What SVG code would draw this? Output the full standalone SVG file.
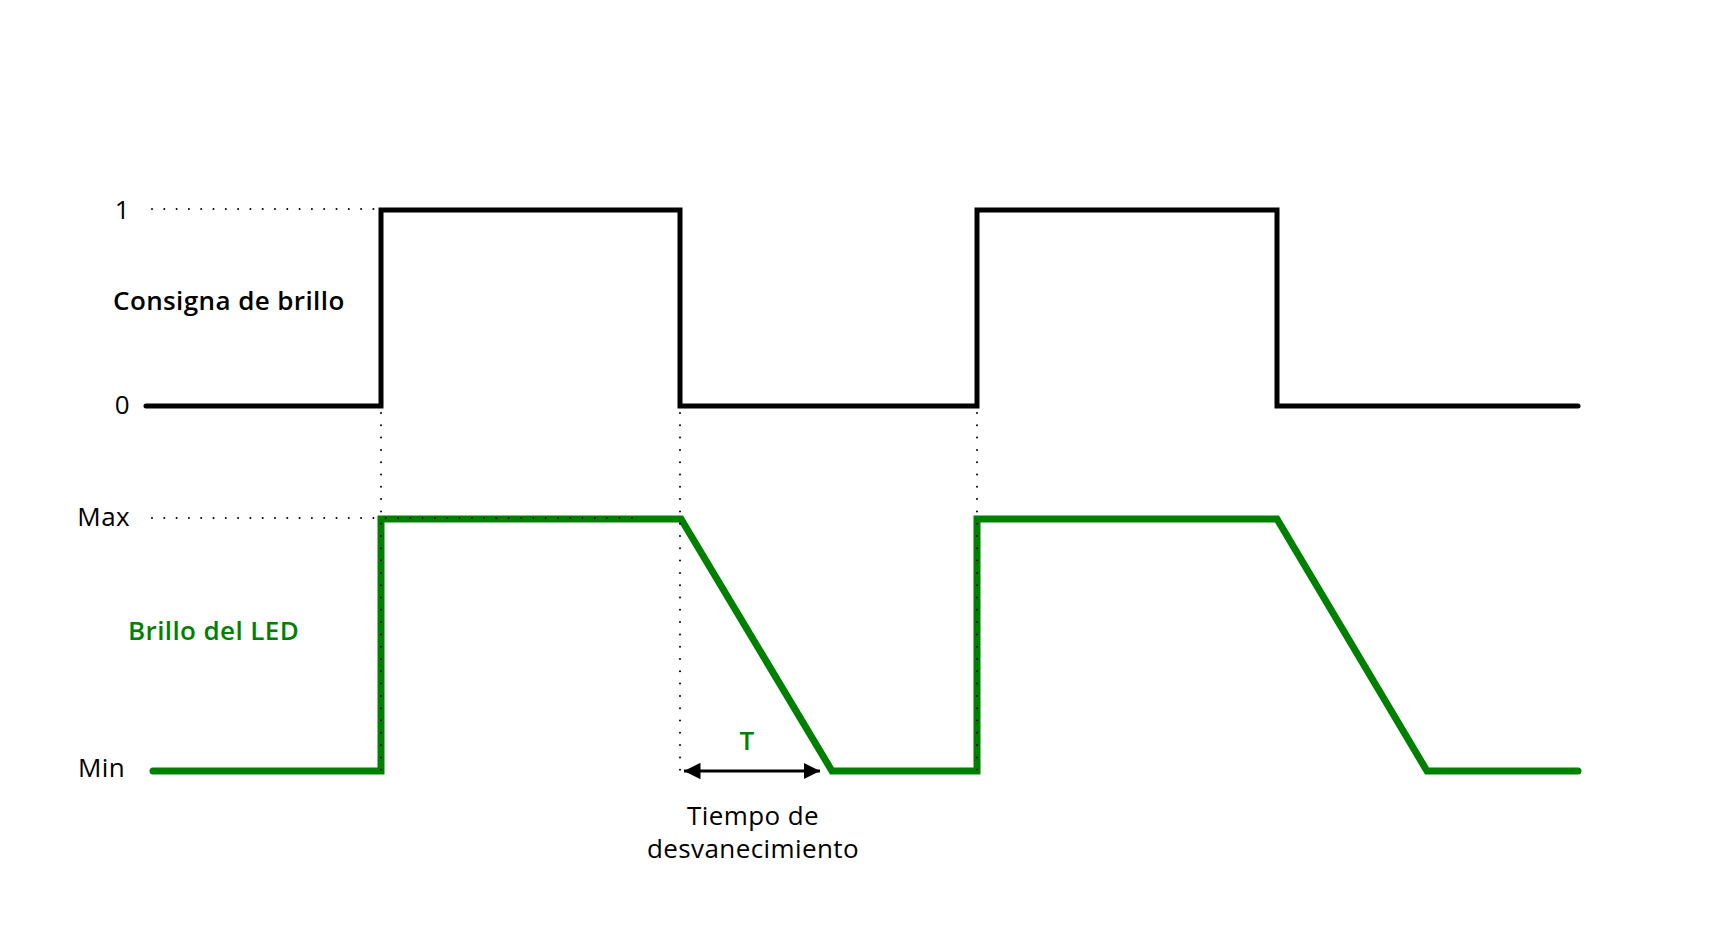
<svg xmlns="http://www.w3.org/2000/svg" width="1716" height="936" viewBox="0 0 1716 936">
<style>
.lbl{font-family:"Open Sans","Noto Sans","Liberation Sans",sans-serif;font-size:26px;letter-spacing:0.4px;fill:#000}
.ttl{font-family:"Open Sans","Noto Sans","Liberation Sans",sans-serif;font-size:26px;font-weight:600;letter-spacing:0.4px}
.dot{fill:none;stroke:#000;stroke-width:2;stroke-linecap:round;stroke-dasharray:0 12.3}
.sig{fill:none;stroke-linejoin:miter;stroke-linecap:round}
</style>
<defs>
<marker id="ah" viewBox="0 0 10 10" refX="10" refY="5" markerWidth="5.5" markerHeight="5.5" orient="auto-start-reverse" markerUnits="strokeWidth">
<path d="M0,0 L10,5 L0,10 Z" fill="#000"/>
</marker>
</defs>
<rect width="1716" height="936" fill="#fff"/>
<g id="setpoint">
<path class="sig" stroke="#000" stroke-width="5" d="M146,406 H381 V210 H680 V406 H977 V210 H1277 V406 H1578"/>
</g>
<g id="led">
<path class="sig" stroke="#008000" stroke-width="7" d="M153,771 H381 V519 H681 L832,771 H977 V519 H1277 L1427,771 H1578"/>
</g>
<g id="connectors">
<line class="dot" x1="152" y1="209" x2="376" y2="209"/>
<line class="dot" x1="152" y1="518" x2="636" y2="518"/>
<line class="dot" x1="381" y1="413" x2="381" y2="770"/>
<line class="dot" x1="680" y1="413" x2="680" y2="770"/>
<line class="dot" x1="977" y1="413" x2="977" y2="770"/>
<line stroke="#000" stroke-width="3" x1="684" y1="771" x2="820" y2="771" marker-start="url(#ah)" marker-end="url(#ah)"/>
</g>
<g id="labels">
<text class="lbl" x="130" y="219" text-anchor="end">1</text>
<text class="lbl" x="130" y="414" text-anchor="end">0</text>
<text class="lbl" x="130" y="526" text-anchor="end">Max</text>
<text class="lbl" x="78" y="777">Min</text>
<text class="ttl" x="113" y="310" fill="#000">Consigna de brillo</text>
<text class="ttl" x="128" y="640" fill="#008000">Brillo del LED</text>
<text class="ttl" x="747" y="750" fill="#008000" text-anchor="middle" font-size="27">T</text>
<text class="lbl" x="753" y="825" text-anchor="middle">Tiempo de</text>
<text class="lbl" x="753" y="858" text-anchor="middle">desvanecimiento</text>
</g>
</svg>
